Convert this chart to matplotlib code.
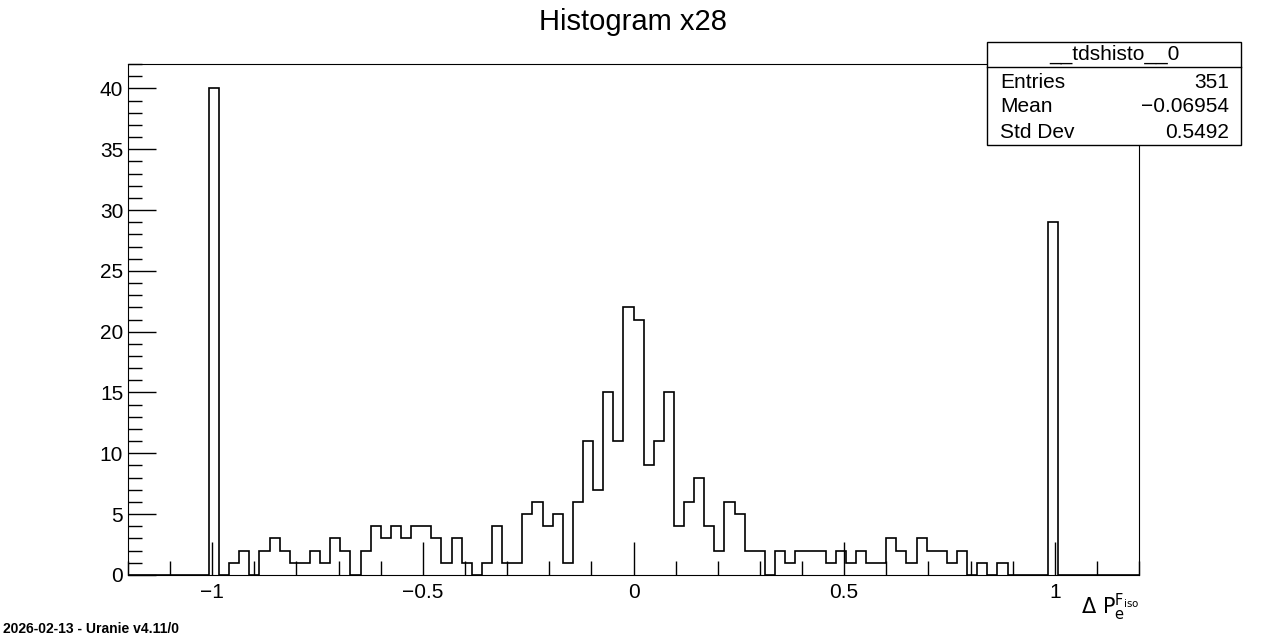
import numpy as np
import matplotlib
matplotlib.use("Agg")
import matplotlib.pyplot as plt
from matplotlib.ticker import MultipleLocator

plt.rcParams['font.family'] = ['Liberation Sans', 'DejaVu Sans']

# 100 bins from -1.2 to 1.2, non-zero bin counts
bin_index = [8, 10, 11, 13, 14, 15, 16, 17, 18, 19, 20, 21, 23, 24, 25, 26, 27, 28, 29, 30,
             31, 32, 33, 35, 36, 37, 38, 39, 40, 41, 42, 43, 44, 45, 46, 47, 48, 49, 50, 51,
             52, 53, 54, 55, 56, 57, 58, 59, 60, 61, 62, 64, 65, 66, 67, 68, 69, 70, 71, 72,
             73, 74, 75, 76, 77, 78, 79, 80, 81, 82, 84, 86, 91]
bin_count = [40, 1, 2, 2, 3, 2, 1, 1, 2, 1, 3, 2, 2, 4, 3, 4, 3, 4, 4, 3,
             1, 3, 1, 1, 4, 1, 1, 5, 6, 4, 5, 1, 6, 11, 7, 15, 11, 22, 21, 9,
             11, 15, 4, 6, 8, 4, 2, 6, 5, 2, 2, 2, 1, 2, 2, 2, 1, 2, 1, 2,
             1, 1, 3, 2, 1, 3, 2, 2, 1, 2, 1, 1, 29]

edges = np.linspace(-1.2, 1.2, 101)
counts = np.zeros(100)
counts[bin_index] = bin_count

fig = plt.figure(figsize=(12.66, 6.39), dpi=100)
ax = fig.add_axes([0.1011, 0.1002, 0.7986, 0.7996])
ax.stairs(counts, edges, color='black', linewidth=1.2)
ax.set_xlim(-1.2, 1.2)
ax.set_ylim(0, 42)

ax.xaxis.set_major_locator(MultipleLocator(0.5))
ax.xaxis.set_minor_locator(MultipleLocator(0.1))
ax.yaxis.set_major_locator(MultipleLocator(5))
ax.yaxis.set_minor_locator(MultipleLocator(1))
ax.tick_params(which='both', direction='in', labelsize=15, top=False, right=False)
ax.tick_params(which='major', length=20, width=1)
ax.tick_params(which='minor', length=10, width=1)
ax.tick_params(axis='x', which='major', length=24, pad=6)
ax.set_xticks([-1, -0.5, 0, 0.5, 1])
ax.set_xticklabels(['\u22121', '\u22120.5', '0', '0.5', '1'])

fig.text(0.5, 0.965, 'Histogram x28', ha='center', va='center', fontsize=21)
fig.text(0.8997, 0.025, r'$\Delta\ \mathrm{P_e^{F_{iso}}}$', ha='right', va='bottom', fontsize=15)
fig.text(0.002, 0.005, '2026-02-13 - Uranie v4.11/0', ha='left', va='bottom',
         fontsize=10, fontweight='bold')

# stats box
bx0, bx1 = 987 / 1266, 1241 / 1266
by0, by1 = 1 - 145 / 639, 1 - 42 / 639
fig.patches.append(plt.Rectangle((bx0, by0), bx1 - bx0, by1 - by0, transform=fig.transFigure,
                                 facecolor='white', edgecolor='black', linewidth=1, zorder=5))
ly = 1 - 67 / 639
fig.add_artist(plt.Line2D([bx0, bx1], [ly, ly], color='black', linewidth=1, zorder=6))
fig.text((bx0 + bx1) / 2, 1 - 54 / 639, '__tdshisto__0', ha='center', va='center', fontsize=15, zorder=7)
rows = [('Entries', '351'), ('Mean', '\u22120.06954'), ('Std Dev', '0.5492')]
for i, (k, v) in enumerate(rows):
    yy = 1 - (82 + 25 * i) / 639
    fig.text(1000 / 1266, yy, k, ha='left', va='center', fontsize=15, zorder=7)
    fig.text(1229 / 1266, yy, v, ha='right', va='center', fontsize=15, zorder=7)

fig.savefig('out.png', dpi=100)
